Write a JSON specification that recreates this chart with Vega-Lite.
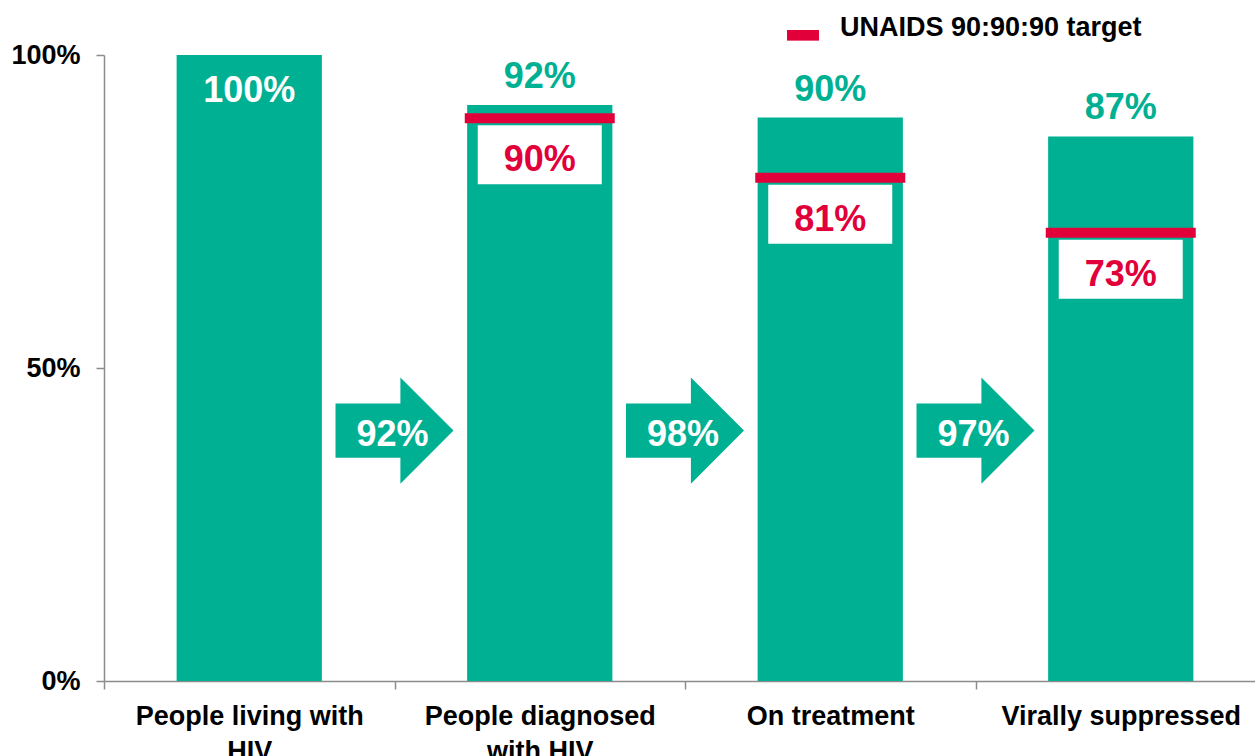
{
  "$schema": "https://vega.github.io/schema/vega-lite/v6.json",
  "autosize": "none",
  "width": 1162,
  "height": 626,
  "padding": {"left": 104, "top": 55, "right": 0, "bottom": 80},
  "background": "white",
  "config": {
    "view": {"stroke": null},
    "font": "Liberation Sans",
    "text": {"font": "Liberation Sans", "fontWeight": "bold", "fontSize": 36}
  },
  "data": {
    "values": [
      {"stage": "People living with HIV", "pct": 100, "label": "100%", "target": null, "targetLabel": null, "arrow": null},
      {"stage": "People diagnosed with HIV", "pct": 92, "label": "92%", "target": 89.9, "targetLabel": "90%", "arrow": "92%"},
      {"stage": "On treatment", "pct": 90, "label": "90%", "target": 80.4, "targetLabel": "81%", "arrow": "98%"},
      {"stage": "Virally suppressed", "pct": 87, "label": "87%", "target": 71.6, "targetLabel": "73%", "arrow": "97%"}
    ]
  },
  "encoding": {
    "x": {
      "field": "stage",
      "type": "nominal",
      "sort": null,
      "title": null,
      "scale": {"paddingInner": 0, "paddingOuter": 0},
      "axis": {
        "labelAngle": 0,
        "tickBand": "extent",
        "domainColor": "#8c8c8c",
        "domainWidth": 1.5,
        "tickColor": "#8c8c8c",
        "tickWidth": 1.5,
        "tickSize": 8,
        "labelFont": "Liberation Sans",
        "labelFontWeight": "bold",
        "labelFontSize": 27,
        "labelColor": "#000000",
        "labelPadding": 14,
        "labelLineHeight": 35,
        "labelLimit": 400,
        "labelBaseline": "top",
        "labelExpr": "datum.value == 'People living with HIV' ? ['People living with', 'HIV'] : datum.value == 'People diagnosed with HIV' ? ['People diagnosed', 'with HIV'] : datum.value"
      }
    }
  },
  "layer": [
    {
      "mark": {"type": "bar", "color": "#00b092", "width": {"band": 0.5}},
      "encoding": {
        "y": {
          "field": "pct",
          "type": "quantitative",
          "title": null,
          "scale": {"domain": [0, 100], "nice": false},
          "axis": {
            "values": [0, 50, 100],
            "grid": false,
            "labelExpr": "datum.value + '%'",
            "domainColor": "#8c8c8c",
            "domainWidth": 1.5,
            "tickColor": "#8c8c8c",
            "tickWidth": 1.5,
            "tickSize": 8,
            "labelFont": "Liberation Sans",
            "labelFontWeight": "bold",
            "labelFontSize": 27,
            "labelColor": "#000000",
            "labelPadding": 16
          }
        }
      }
    },
    {
      "transform": [{"filter": "datum.target != null"}],
      "mark": {"type": "point", "shape": "M-1,0.113H1V1.065H-1Z", "size": 15376, "filled": true, "fill": "white", "opacity": 1, "strokeWidth": 0},
      "encoding": {
        "y": {"field": "target", "type": "quantitative"}
      }
    },
    {
      "transform": [{"filter": "datum.target != null"}],
      "mark": {"type": "tick", "size": 150, "thickness": 10, "opacity": 1},
      "encoding": {
        "y": {"field": "target", "type": "quantitative"},
        "color": {
          "datum": "UNAIDS 90:90:90 target",
          "type": "nominal",
          "scale": {"range": ["#e1003a"]},
          "legend": {
            "title": null,
            "orient": "none",
            "legendX": 683,
            "legendY": -43,
            "padding": 0,
            "symbolType": "M-1,0.125H1V0.79H-1Z",
            "symbolSize": 1024,
            "symbolFillColor": "#e1003a",
            "symbolStrokeWidth": 0,
            "symbolOpacity": 1,
            "labelOffset": 21,
            "labelFont": "Liberation Sans",
            "labelFontWeight": "bold",
            "labelFontSize": 27,
            "labelColor": "#000000",
            "labelLimit": 600
          }
        }
      }
    },
    {
      "transform": [{"filter": "datum.pct < 100"}],
      "mark": {"type": "text", "color": "#00b092", "baseline": "middle", "dy": -28},
      "encoding": {
        "y": {"field": "pct", "type": "quantitative"},
        "text": {"field": "label"}
      }
    },
    {
      "transform": [{"filter": "datum.pct == 100"}],
      "mark": {"type": "text", "color": "white", "baseline": "middle", "dy": 36},
      "encoding": {
        "y": {"field": "pct", "type": "quantitative"},
        "text": {"field": "label"}
      }
    },
    {
      "transform": [{"filter": "datum.target != null"}],
      "mark": {"type": "text", "color": "#e1003a", "baseline": "middle", "dy": 42},
      "encoding": {
        "y": {"field": "target", "type": "quantitative"},
        "text": {"field": "targetLabel"}
      }
    },
    {
      "transform": [{"filter": "datum.arrow != null"}],
      "mark": {"type": "point", "shape": "M-1,-0.46H0.1V-0.9L1,0L0.1,0.9V0.46H-1Z", "size": 13924, "filled": true, "color": "#00b092", "opacity": 1, "strokeWidth": 0},
      "encoding": {
        "x": {"field": "stage", "type": "nominal", "sort": null, "bandPosition": 0},
        "y": {"datum": 40, "type": "quantitative"}
      }
    },
    {
      "transform": [{"filter": "datum.arrow != null"}],
      "mark": {"type": "text", "color": "white", "baseline": "middle", "dy": 4, "dx": -2},
      "encoding": {
        "x": {"field": "stage", "type": "nominal", "sort": null, "bandPosition": 0},
        "y": {"datum": 40, "type": "quantitative"},
        "text": {"field": "arrow"}
      }
    }
  ]
}
